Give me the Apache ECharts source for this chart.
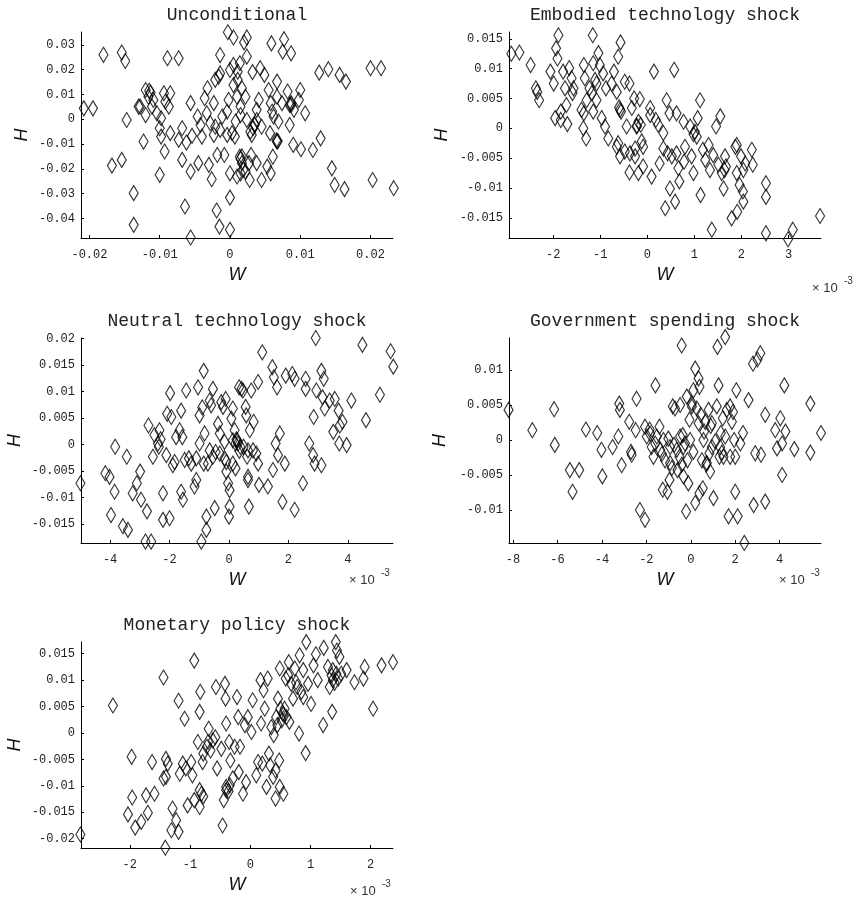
<!DOCTYPE html>
<html>
<head>
<meta charset="utf-8">
<script src="https://cdn.jsdelivr.net/npm/echarts@6/dist/echarts.min.js"></script>
<style>
  html, body { margin: 0; padding: 0; background: #fff; }
  #chart { width: 858px; height: 900px; }
</style>
</head>
<body>
<div id="chart"></div>
<script>
// Panel titles
const panelTitles = [
  'Unconditional',
  'Embodied technology shock',
  'Neutral technology shock',
  'Government spending shock',
  'Monetary policy shock'
];

// [W, H] pairs. Unconditional W in raw units; the shock panels store W in units of 1e-3.
const unconditional = [
  [-0.0003,0.0351],[0.0005,0.033],[0.0024,0.033],[0.002,0.031],[0.0059,0.0306],[0.0077,0.0323],[0.0075,0.0273],[0.0087,0.0266],
  [-0.018,0.026],[-0.0154,0.0269],[-0.0149,0.0235],[-0.0089,0.0246],[-0.0073,0.0246],[-0.0014,0.0259],[0.0024,0.0253],[0.0005,0.0219],
  [0,0.0199],[0.0014,0.0226],[0.0011,0.0192],[-0.0014,0.0185],[-0.0016,0.0172],[-0.0021,0.0159],[0.0032,0.019],[0.0043,0.0206],
  [0.0049,0.0179],[0.0067,0.0152],[0.0127,0.0188],[0.014,0.0202],[0.0156,0.0179],[0.0165,0.0152],[0.02,0.0206],[0.0215,0.0206],
  [-0.0032,0.0125],[-0.0036,0.0085],[-0.0023,0.0065],[0.0011,0.0159],[0.0005,0.0138],[0.0017,0.0125],[0.0022,0.0091],[0.0015,0.0051],
  [0.0041,0.0078],[0.0038,0.0038],[0.0058,0.0065],[0.0067,0.0091],[0.0082,0.0112],[0.0087,0.0065],[0.0091,0.0038],[0.01,0.0118],
  [0.0107,0.0024],[0.0098,0.0078],[-0.0002,0.0078],[-0.0004,0.0031],[-0.012,0.0118],[-0.0116,0.0091],[-0.0109,0.0078],[-0.0111,0.0051],
  [-0.0094,0.0105],[-0.0085,0.0105],[-0.0092,0.0071],[-0.0087,0.0051],[-0.0128,0.0051],[-0.012,0.0017],[-0.0104,0.0024],[-0.0098,0.0004],
  [-0.01,-0.0036],[-0.0098,-0.007],[-0.0085,-0.0056],[-0.0068,-0.0036],[-0.0073,-0.0083],[-0.0062,-0.0094],[-0.0056,0.0065],[-0.0046,0.0011],
  [-0.0042,-0.0023],[-0.004,-0.007],[-0.0033,0.0024],[-0.0028,-0.0016],[-0.0021,-0.003],[-0.0014,-0.0043],[-0.0023,-0.0063],[-0.0004,-0.0063],
  [0.0007,-0.007],[-0.0011,0.0011],[0.0008,-0.0009],[0.0015,0.0017],[0.0024,-0.0003],[0.0029,-0.005],[0.0035,-0.0023],[0.0038,-0.0003],
  [0.0031,-0.0063],[0.0045,-0.003],[0.0057,-0.0056],[0.0062,0.0011],[0.0069,-0.0009],[0.0067,-0.009],[0.0085,-0.0023],[0.009,-0.0103],
  [0.0101,-0.0121],[0.0118,-0.0124],[0.0129,-0.0077],[0.0145,-0.0198],[0.0149,-0.0265],[0.0163,-0.0282],[0.0203,-0.0245],[0.0233,-0.0278],
  [-0.0123,-0.009],[-0.0147,-0.0003],[-0.013,0.0051],[-0.0208,0.0044],[-0.0195,0.0044],[-0.0168,-0.0187],[-0.0154,-0.0164],[-0.0137,-0.0298],
  [-0.0137,-0.0426],[-0.01,-0.0224],[-0.0093,-0.013],[-0.0068,-0.0164],[-0.0056,-0.0211],[-0.0064,-0.0352],[-0.0056,-0.0477],[-0.0045,-0.0177],
  [-0.003,-0.0184],[-0.0026,-0.0242],[-0.0018,-0.0144],[-0.0008,-0.0144],[-0.0019,-0.0368],[-0.0015,-0.0433],[0,-0.0446],[0,-0.0316],
  [0,-0.0218],[0.001,-0.0231],[0.0014,-0.0151],[0.0017,-0.0177],[0.0019,-0.0204],[0.0027,-0.0177],[0.0028,-0.0245],[0.003,-0.0144],
  [0.0038,-0.0177],[0.0045,-0.0245],[0.0053,-0.0191],[0.0058,-0.0218],[0.0061,-0.0151],[0.0015,-0.0218],[0.0022,-0.0211],[-0.0054,-0.0067],
  [0.0003,-0.0056],[0.001,0.0091],[0.0074,0.0065],[0.0085,0.0058],[0.006,0.0031],[0.0055,0.0118],[-0.0115,0.0115],[-0.0113,0.0108],
  [0.0015,-0.016],[0.0017,-0.015],[0.0068,-0.0088],[0.0066,-0.0085],[0.0087,0.0058],[0.0035,-0.002],[0.0033,-0.0035]
];

const embodied = [
  [-2.89,0.0125],[-2.72,0.0127],[-2.48,0.0106],[-2.37,0.0067],[-2.34,0.0061],[-2.30,0.0047],[-2.06,0.0095],[-1.99,0.0075],
  [-1.96,0.0017],[-1.94,0.0134],[-1.89,0.0156],[-1.91,0.0117],[-1.84,0.0028],[-1.84,0.0014],[-1.79,0.0095],[-1.75,0.0067],
  [-1.72,0.0039],[-1.70,0.0007],[-1.66,0.0101],[-1.61,0.0084],[-1.57,0.0067],[-1.59,0.0059],[-1.35,0.0106],[-1.33,0.0084],
  [-1.35,0.0025],[-1.36,0.0],[-1.30,-0.0017],[-1.23,0.0067],[-1.16,0.0156],[-1.15,0.0109],[-1.11,0.0081],[-1.18,0.0059],
  [-1.15,0.0028],[-1.04,0.0126],[-1.01,0.0106],[-1.08,0.0047],[-0.97,0.0017],[-0.94,0.0092],[-0.88,0.0067],[-0.90,0.0003],
  [-0.83,-0.0017],[-0.71,0.0095],[-0.65,0.0061],[-0.62,0.012],[-0.57,0.0144],[-0.58,0.0031],[-0.62,-0.0025],[-0.58,-0.0047],
  [-0.48,0.0078],[-0.38,0.0075],[-0.48,-0.0039],[-0.38,-0.0074],[-0.33,0.0034],[-0.28,0.005],[-0.26,-0.0034],[-0.26,-0.0047],
  [-0.19,0.0011],[-0.16,0.0049],[-0.14,0.0006],[-0.12,-0.0022],[-0.09,-0.0064],[-0.09,-0.0031],[0.06,0.0022],[0.09,-0.0081],
  [0.14,0.0095],[0.18,0.0014],[0.23,0.0006],[0.26,-0.0059],[0.34,-0.0008],[0.38,-0.0134],[0.41,0.0047],[0.43,-0.0042],
  [0.47,0.0025],[0.48,-0.0101],[0.52,-0.0047],[0.57,0.0098],[0.59,-0.0123],[0.62,0.0025],[0.62,-0.0042],[0.66,-0.0067],
  [0.68,-0.0089],[0.77,0.0011],[0.78,-0.0056],[0.80,-0.0031],[0.91,0.0003],[0.94,-0.0047],[0.98,-0.0075],[1.01,-0.0006],
  [1.05,-0.0014],[1.07,0.0017],[1.12,0.0047],[1.13,-0.0112],[1.18,-0.0036],[1.23,-0.0053],[1.30,-0.0028],[1.33,-0.007],
  [1.37,-0.017],[1.40,-0.0045],[1.46,0.0003],[1.51,-0.0061],[1.55,0.002],[1.58,-0.0075],[1.62,-0.0101],[1.65,-0.0047],
  [1.67,-0.0064],[1.79,-0.0151],[1.87,-0.0031],[1.90,-0.0075],[1.91,-0.014],[1.96,-0.0095],[1.99,-0.0047],[2.03,-0.0106],
  [2.04,-0.0123],[2.08,-0.0059],[2.22,-0.0036],[2.24,-0.0061],[2.52,-0.0092],[2.52,-0.0115],[2.52,-0.0176],[2.99,-0.0186],
  [3.09,-0.017],[3.67,-0.0147],[-0.65,-0.0031],[-0.44,0.0003],[0.06,0.0034],[-0.23,0.0003],[-1.29,0.0047],[-1.40,0.0031],
  [-0.76,0.0075],[-1.08,0.0075],[2.04,-0.007],[1.90,-0.0028],[-0.37,-0.0042],[-0.19,-0.0075],[0.34,-0.0034],[-0.60,0.0035],
  [-0.56,0.0028],[-0.22,0.0004],[0.98,-0.0010],[1.64,-0.0070]
];

const neutral = [
  [-5.0,-0.0073],[-4.16,-0.0054],[-4.02,-0.0061],[-3.83,-0.0004],[-3.85,-0.0089],[-3.97,-0.0133],[-3.57,-0.0154],[-3.40,-0.0161],
  [-3.44,-0.0023],[-3.24,-0.0092],[-3.10,-0.0073],[-2.99,-0.0051],[-2.96,-0.0104],[-2.76,-0.0126],[-2.81,-0.0183],[-2.62,-0.0183],
  [-2.71,0.0036],[-2.56,-0.0023],[-2.51,0.0018],[-2.39,0.0002],[-2.34,0.0027],[-2.36,-0.0004],[-2.22,-0.0092],[-2.22,-0.0142],
  [-2.11,-0.002],[-2.0,-0.0139],[-2.08,0.0058],[-1.98,0.0097],[-1.94,0.0052],[-1.83,-0.0033],[-1.78,0.0014],[-1.61,0.0064],
  [-1.61,-0.0089],[-1.57,0.0014],[-1.55,-0.0104],[-1.44,0.0102],[-1.35,-0.0026],[-1.27,-0.0036],[-1.16,-0.0079],[-1.10,-0.0067],
  [-1.04,0.0108],[-0.99,0.0002],[-0.93,-0.0183],[-0.99,0.0055],[-0.90,0.007],[-0.85,0.0139],[-0.82,0.0021],[-0.76,-0.0136],
  [-0.76,-0.0161],[-0.71,-0.0036],[-0.65,0.0083],[-0.60,0.0074],[-0.54,0.0105],[-0.48,-0.012],[-0.45,-0.0014],[-0.37,0.0039],
  [-0.31,0.0021],[-0.26,0.008],[-0.20,0.0071],[-0.15,0.0005],[-0.11,0.0086],[-0.09,-0.0033],[-0.09,-0.0051],[-0.03,-0.0073],
  [0.02,-0.0086],[0.02,-0.0117],[0.0,-0.0136],[0.08,0.0049],[0.13,0.0068],[0.19,0.0027],[0.22,0.0002],[0.22,-0.0045],
  [0.27,0.0008],[0.34,0.0108],[0.42,0.0105],[0.47,0.0102],[0.49,-0.0004],[0.56,0.0071],[0.58,0.0055],[0.61,-0.0023],
  [0.64,-0.0061],[0.64,-0.0067],[0.67,-0.0117],[0.70,0.0027],[0.75,0.0102],[0.81,-0.0011],[0.83,0.0043],[0.92,-0.0017],
  [0.98,0.0118],[0.98,-0.0036],[1.01,-0.0076],[1.12,0.0174],[1.31,-0.0079],[1.46,0.0146],[1.48,-0.0048],[1.51,0.0127],
  [1.57,0.0002],[1.62,0.0108],[1.65,-0.002],[1.71,0.0021],[1.80,-0.0108],[1.88,-0.0036],[1.91,0.013],[2.13,0.0133],
  [2.21,0.0124],[2.21,-0.0123],[2.49,-0.0073],[2.58,0.0124],[2.58,0.0105],[2.70,0.0002],[2.83,-0.002],[2.85,0.0052],
  [2.88,-0.0036],[2.92,0.0201],[2.94,0.0102],[3.11,0.0139],[3.11,-0.0039],[3.15,0.0089],[3.19,0.0124],[3.22,0.0068],
  [3.39,0.0083],[3.51,0.0024],[3.56,0.0086],[3.69,0.0064],[3.71,0.0002],[3.73,0.0036],[3.82,0.0043],[3.96,-0.0001],
  [4.12,0.0083],[4.49,0.0188],[4.61,0.0046],[5.08,0.0094],[5.44,0.0176],[5.53,0.0147],[0.13,0.0008],[0.30,0.0002],
  [0.38,-0.0004],[0.64,-0.0011],[-0.31,-0.0017],[-0.54,-0.0023],[-0.65,-0.0011],[-1.10,-0.0026],[-1.49,-0.0029],[-1.89,-0.0039],
  [-0.15,-0.0026],[0.13,-0.0036],[-0.85,-0.0036],[-1.66,0.0027],[0.25,0.0010],[0.35,-0.0012],[-2.30,0.0010]
];

const government = [
  [-8.20,0.0043],[-7.13,0.0014],[-6.15,0.0044],[-6.12,-0.0007],[-5.44,-0.0043],[-5.32,-0.0074],[-5.02,-0.0043],[-4.72,0.0015],
  [-4.21,0.001],[-4.02,-0.0014],[-3.98,-0.0052],[-3.52,-0.001],[-3.22,0.0052],[-3.19,0.0043],[-3.26,0.0005],[-3.11,-0.0036],
  [-2.77,0.0026],[-2.69,-0.0017],[-2.66,-0.0021],[-2.44,0.0059],[-2.48,0.0014],[-2.29,-0.01],[-2.06,-0.0114],[-2.06,0.0019],
  [-1.98,0.0005],[-1.83,0.0009],[-1.76,-0.001],[-1.68,-0.0024],[-1.59,0.0078],[-1.53,0.0005],[-1.41,0.0019],[-1.38,-0.0014],
  [-1.26,-0.0071],[-1.16,-0.0029],[-1.05,-0.0074],[-1.01,0.0002],[-0.96,-0.0057],[-0.93,-0.0033],[-0.81,0.0048],[-0.71,0.0045],
  [-0.75,-0.0007],[-0.63,-0.0014],[-0.60,-0.0043],[-0.51,-0.0024],[-0.48,0.005],[-0.41,0.0135],[-0.36,0.0007],[-0.33,-0.0052],
  [-0.26,-0.0005],[-0.21,-0.0102],[-0.18,0.0062],[-0.15,-0.0029],[-0.11,-0.0062],[-0.06,0.0029],[-0.03,0.0],[0.05,0.0052],
  [0.12,-0.0017],[0.20,0.0102],[0.20,-0.009],[0.27,0.0045],[0.35,0.0088],[0.39,0.0076],[0.39,-0.0076],[0.45,0.0036],
  [0.50,-0.0029],[0.54,-0.0069],[0.60,0.0012],[0.65,0.0026],[0.72,-0.0033],[0.80,0.0043],[0.84,-0.0019],[0.87,-0.0045],
  [0.95,0.0024],[1.02,-0.0083],[1.10,-0.0002],[1.17,0.0048],[1.20,0.0133],[1.25,0.0078],[1.29,-0.0024],[1.35,0.001],
  [1.44,0.0031],[1.47,-0.0024],[1.55,0.0147],[1.55,0.0005],[1.62,0.0043],[1.70,-0.0109],[1.77,0.0048],[1.85,0.0026],
  [1.95,0.0],[2.0,-0.0024],[2.0,-0.0074],[2.05,0.0071],[2.11,-0.0109],[2.23,-0.0005],[2.35,0.001],[2.41,-0.0147],
  [2.60,0.0057],[2.80,0.0109],[2.83,-0.0093],[2.90,-0.0019],[3.13,0.0124],[3.16,-0.0021],[3.35,-0.0088],[3.35,0.0036],
  [3.80,0.0014],[3.88,-0.0012],[4.03,0.0031],[4.11,-0.0005],[4.11,-0.005],[4.21,0.0078],[4.26,0.0012],[4.66,-0.0013],
  [5.38,0.0052],[5.38,-0.0018],[5.86,0.001],[-1.23,0.0],[-0.93,-0.001],[-0.48,0.0005],[-0.33,-0.001],[0.35,0.0024],
  [0.57,0.0],[0.95,-0.001],[1.32,-0.001],[0.12,0.0071],[1.77,-0.0024],[-1.85,0.0015],[-1.60,-0.0005],[-1.30,-0.0020],
  [-0.85,-0.0040],[-0.40,-0.0035],[0.05,0.0048],[0.90,0.0020],[1.90,0.0040],[3.00,0.0115],[0.70,-0.0035],[1.40,-0.0018]
];

const monetary = [
  [-2.82,-0.0192],[-2.28,0.0052],[-2.03,-0.0154],[-1.97,-0.0045],[-1.96,-0.0122],[-1.91,-0.0179],[-1.81,-0.0168],[-1.73,-0.0118],
  [-1.70,-0.0151],[-1.63,-0.0055],[-1.59,-0.0115],[-1.44,0.0105],[-1.44,-0.0086],[-1.40,-0.0049],[-1.37,-0.0058],[-1.41,-0.0217],
  [-1.31,-0.0184],[-1.29,-0.0143],[-1.23,-0.0165],[-1.19,-0.0187],[-1.19,0.0061],[-1.17,-0.0077],[-1.09,0.0027],[-1.07,-0.0067],
  [-1.04,-0.0137],[-0.98,-0.0055],[-0.93,0.0137],[-0.96,-0.008],[-0.93,-0.0127],[-0.87,-0.0017],[-0.84,0.004],[-0.84,-0.014],
  [-0.83,0.0078],[-0.81,-0.0115],[-0.79,-0.0055],[-0.78,-0.0039],[-0.72,-0.0026],[-0.69,0.0008],[-0.66,-0.0033],[-0.62,-0.0014],
  [-0.58,-0.0008],[-0.57,0.0087],[-0.55,-0.0067],[-0.48,-0.003],[-0.46,-0.0175],[-0.44,-0.0127],[-0.42,0.0093],[-0.41,0.0065],
  [-0.40,0.0018],[-0.40,-0.0108],[-0.35,-0.0017],[-0.34,-0.0099],[-0.33,-0.0052],[-0.29,-0.0086],[-0.26,-0.0026],[-0.22,0.0068],
  [-0.20,0.003],[-0.19,-0.0074],[-0.17,-0.0026],[-0.12,-0.0115],[-0.09,0.0015],[-0.07,-0.0093],[-0.04,0.003],[0.02,0.0002],
  [0.10,-0.008],[0.17,0.01],[0.18,0.0018],[0.20,-0.0058],[0.22,0.0081],[0.24,0.0046],[0.27,-0.0102],[0.29,0.0103],
  [0.31,-0.0039],[0.33,-0.0061],[0.35,0.0011],[0.39,-0.0004],[0.42,-0.0071],[0.42,-0.0124],[0.46,0.0065],[0.48,-0.0052],
  [0.49,0.0122],[0.49,-0.0102],[0.52,0.0024],[0.54,0.0037],[0.55,-0.0115],[0.57,0.0046],[0.59,0.0103],[0.63,0.0109],
  [0.64,0.0134],[0.65,0.0021],[0.68,0.0093],[0.71,0.0065],[0.74,0.0122],[0.78,0.0087],[0.81,-0.0001],[0.82,0.0147],
  [0.85,0.0078],[0.88,0.0119],[0.92,-0.0038],[0.93,0.0172],[0.96,0.0093],[1.01,0.0055],[1.05,0.0128],[1.09,0.0149],
  [1.12,0.01],[1.21,0.0015],[1.22,0.0161],[1.29,0.0125],[1.32,0.0087],[1.35,0.0109],[1.36,0.004],[1.37,0.0119],
  [1.42,0.0172],[1.44,0.0156],[1.46,0.0103],[1.48,0.0144],[1.51,0.0112],[1.60,0.0119],[1.73,0.0096],[1.88,0.0103],
  [1.90,0.0125],[2.04,0.0046],[2.18,0.0128],[2.37,0.0134],[0.43,0.003],[0.50,0.0046],[0.60,0.003],[0.76,0.0096],
  [0.88,0.0068],[1.37,0.01],[1.43,0.0112],[-0.40,-0.0102],[-0.84,-0.0108],[-0.70,-0.0017],[-1.12,-0.0058],[-1.40,-0.0083],
  [0.13,-0.0055],[0.38,-0.0083],[0.04,0.0062],[0.55,0.0035],[0.45,0.0015],[-0.36,-0.0110],[-0.78,-0.0120],[1.40,0.0095]
];

// Tick positions per panel
const xTicks = [
  [-0.02, -0.01, 0, 0.01, 0.02],
  [-2, -1, 0, 1, 2, 3],
  [-4, -2, 0, 2, 4],
  [-8, -6, -4, -2, 0, 2, 4],
  [-2, -1, 0, 1, 2]
];
const yTicks = [
  [-0.04, -0.03, -0.02, -0.01, 0, 0.01, 0.02, 0.03],
  [-0.015, -0.01, -0.005, 0, 0.005, 0.01, 0.015],
  [-0.015, -0.01, -0.005, 0, 0.005, 0.01, 0.015, 0.02],
  [-0.01, -0.005, 0, 0.005, 0.01],
  [-0.02, -0.015, -0.01, -0.005, 0, 0.005, 0.01, 0.015]
];

// Axis extents (tight around the data)
const xRanges = [[-0.0212, 0.0232], [-2.94, 3.69], [-4.98, 5.52], [-8.18, 5.86], [-2.81, 2.37]];
const yRanges = [[-0.0479, 0.0352], [-0.01839, 0.01614], [-0.01857, 0.0201], [-0.01471, 0.01457], [-0.02176, 0.01722]];

const panelData = [unconditional, embodied, neutral, government, monetary];
const hasExponent = [false, true, true, true, true];

// Layout of the 3x2 panel grid
const grids = [
  { left: 81,  top: 32,  width: 312, height: 206 },
  { left: 509, top: 32,  width: 312, height: 206 },
  { left: 81,  top: 338, width: 312, height: 205 },
  { left: 509, top: 338, width: 312, height: 205 },
  { left: 81,  top: 642, width: 312, height: 206 }
];
const yNameGaps = [50, 58, 57, 60, 57];
const exponentPos = [null, [812, 288], [349, 580], [779, 580], [350, 891]];

const monoFont = "'Liberation Mono', 'DejaVu Sans Mono', monospace";
const sansFont = "'Liberation Sans', Arial, sans-serif";
const fmt = v => String(+Number(v).toFixed(6));

const option = {
  animation: false,
  backgroundColor: '#ffffff',
  title: grids.map((g, i) => ({
    text: panelTitles[i],
    left: g.left + g.width / 2,
    top: g.top - 26,
    textAlign: 'center',
    padding: 0,
    textStyle: { fontFamily: monoFont, fontSize: 18, fontWeight: 'normal', color: '#222' }
  })),
  grid: grids.map(g => Object.assign({ containLabel: false }, g)),
  xAxis: grids.map((g, i) => ({
    type: 'value',
    gridIndex: i,
    min: xRanges[i][0],
    max: xRanges[i][1],
    name: 'W',
    nameLocation: 'middle',
    nameGap: 28,
    nameTextStyle: { fontFamily: sansFont, fontStyle: 'italic', fontSize: 18, color: '#111' },
    axisLine: { show: true, onZero: false, lineStyle: { color: '#000', width: 1 } },
    axisTick: { show: true, inside: true, length: 3, customValues: xTicks[i], lineStyle: { color: '#000' } },
    axisLabel: { customValues: xTicks[i], formatter: fmt, margin: 11, fontFamily: monoFont, fontSize: 12, color: '#222' },
    splitLine: { show: false }
  })),
  yAxis: grids.map((g, i) => ({
    type: 'value',
    gridIndex: i,
    min: yRanges[i][0],
    max: yRanges[i][1],
    name: 'H',
    nameLocation: 'middle',
    nameRotate: 90,
    nameGap: yNameGaps[i],
    nameTextStyle: { fontFamily: sansFont, fontStyle: 'italic', fontSize: 18, color: '#111' },
    axisLine: { show: true, onZero: false, lineStyle: { color: '#000', width: 1 } },
    axisTick: { show: true, inside: true, length: 3, customValues: yTicks[i], lineStyle: { color: '#000' } },
    axisLabel: { customValues: yTicks[i], formatter: fmt, margin: 6, fontFamily: monoFont, fontSize: 12, color: '#222' },
    splitLine: { show: false }
  })),
  series: panelData.map((d, i) => ({
    type: 'scatter',
    xAxisIndex: i,
    yAxisIndex: i,
    data: d,
    symbol: 'diamond',
    symbolSize: [9, 15],
    clip: false,
    silent: true,
    itemStyle: { color: 'rgba(0,0,0,0)', borderColor: '#000', borderWidth: 1.2 }
  })),
  graphic: exponentPos.map((p, i) => hasExponent[i] && p ? {
    type: 'group',
    x: p[0],
    y: p[1],
    children: [
      { type: 'text', x: 0, y: 0, style: { text: '× 10', font: '13px ' + sansFont, fill: '#333', verticalAlign: 'middle' } },
      { type: 'text', x: 32, y: -7, style: { text: '-3', font: '10px ' + sansFont, fill: '#333', verticalAlign: 'middle' } }
    ]
  } : null).filter(Boolean)
};

const chart = echarts.init(document.getElementById('chart'), null, { renderer: 'canvas' });
chart.setOption(option);
</script>
</body>
</html>
